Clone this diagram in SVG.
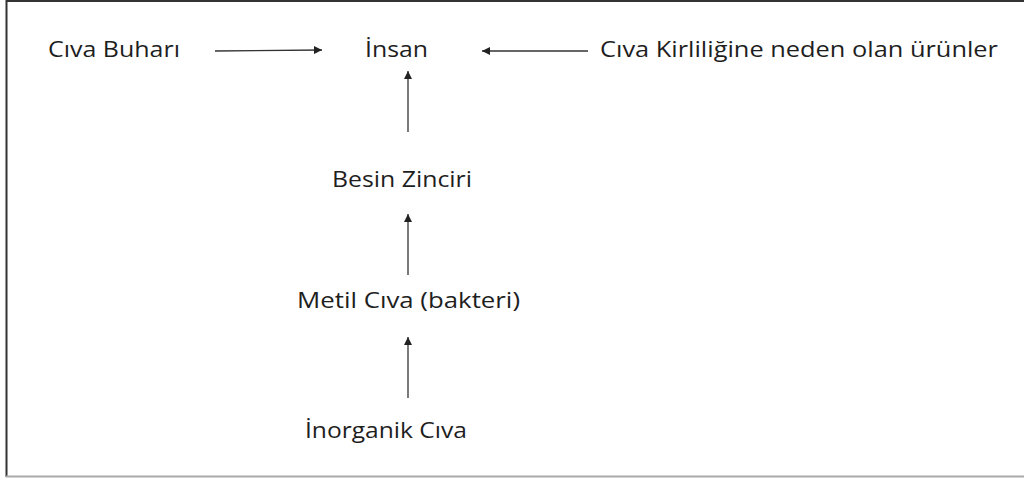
<svg xmlns="http://www.w3.org/2000/svg" width="1024" height="480" viewBox="0 0 1024 480">
<defs>
<style>
.t{font-family:"Open Sans","Noto Sans","DejaVu Sans",sans-serif;font-size:21px;fill:#1e1e1e}
.c{stroke:#333;stroke-width:1.3;fill:none}
</style>
<marker id="ah" viewBox="0 0 10 10" refX="10" refY="5" markerWidth="8" markerHeight="8" markerUnits="userSpaceOnUse" orient="auto">
<path d="M0,0 L10,5 L0,10 Z" fill="#222"/>
</marker>
</defs>
<rect width="1024" height="480" fill="#fff"/>
<g id="frame">
<line x1="6" y1="1" x2="1024" y2="1" stroke="#333" stroke-width="2"/>
<line x1="6.5" y1="0" x2="6.5" y2="477" stroke="#333" stroke-width="2"/>
<line x1="6" y1="476.5" x2="1024" y2="476.5" stroke="#aaa" stroke-width="2"/>
</g>
<g id="connectors">
<line class="c" x1="215" y1="51" x2="322" y2="50" marker-end="url(#ah)"/>
<line class="c" x1="588" y1="51" x2="482" y2="51" marker-end="url(#ah)"/>
<line class="c" x1="408" y1="132" x2="408" y2="71" marker-end="url(#ah)"/>
<line class="c" x1="408" y1="275" x2="408" y2="214" marker-end="url(#ah)"/>
<line class="c" x1="408" y1="398" x2="408" y2="337" marker-end="url(#ah)"/>
</g>
<g id="civa-buhari"><text class="t" x="48" y="57" textLength="132" lengthAdjust="spacingAndGlyphs">Cıva Buharı</text></g>
<g id="insan"><text class="t" x="365" y="57" textLength="63" lengthAdjust="spacingAndGlyphs">İnsan</text></g>
<g id="urunler"><text class="t" x="600" y="57" textLength="398" lengthAdjust="spacingAndGlyphs">Cıva Kirliliğine neden olan ürünler</text></g>
<g id="besin-zinciri"><text class="t" x="332" y="187" textLength="140" lengthAdjust="spacingAndGlyphs">Besin Zinciri</text></g>
<g id="metil-civa"><text class="t" x="297" y="308" textLength="223" lengthAdjust="spacingAndGlyphs">Metil Cıva (bakteri)</text></g>
<g id="inorganik-civa"><text class="t" x="305" y="438" textLength="162" lengthAdjust="spacingAndGlyphs">İnorganik Cıva</text></g>
</svg>
